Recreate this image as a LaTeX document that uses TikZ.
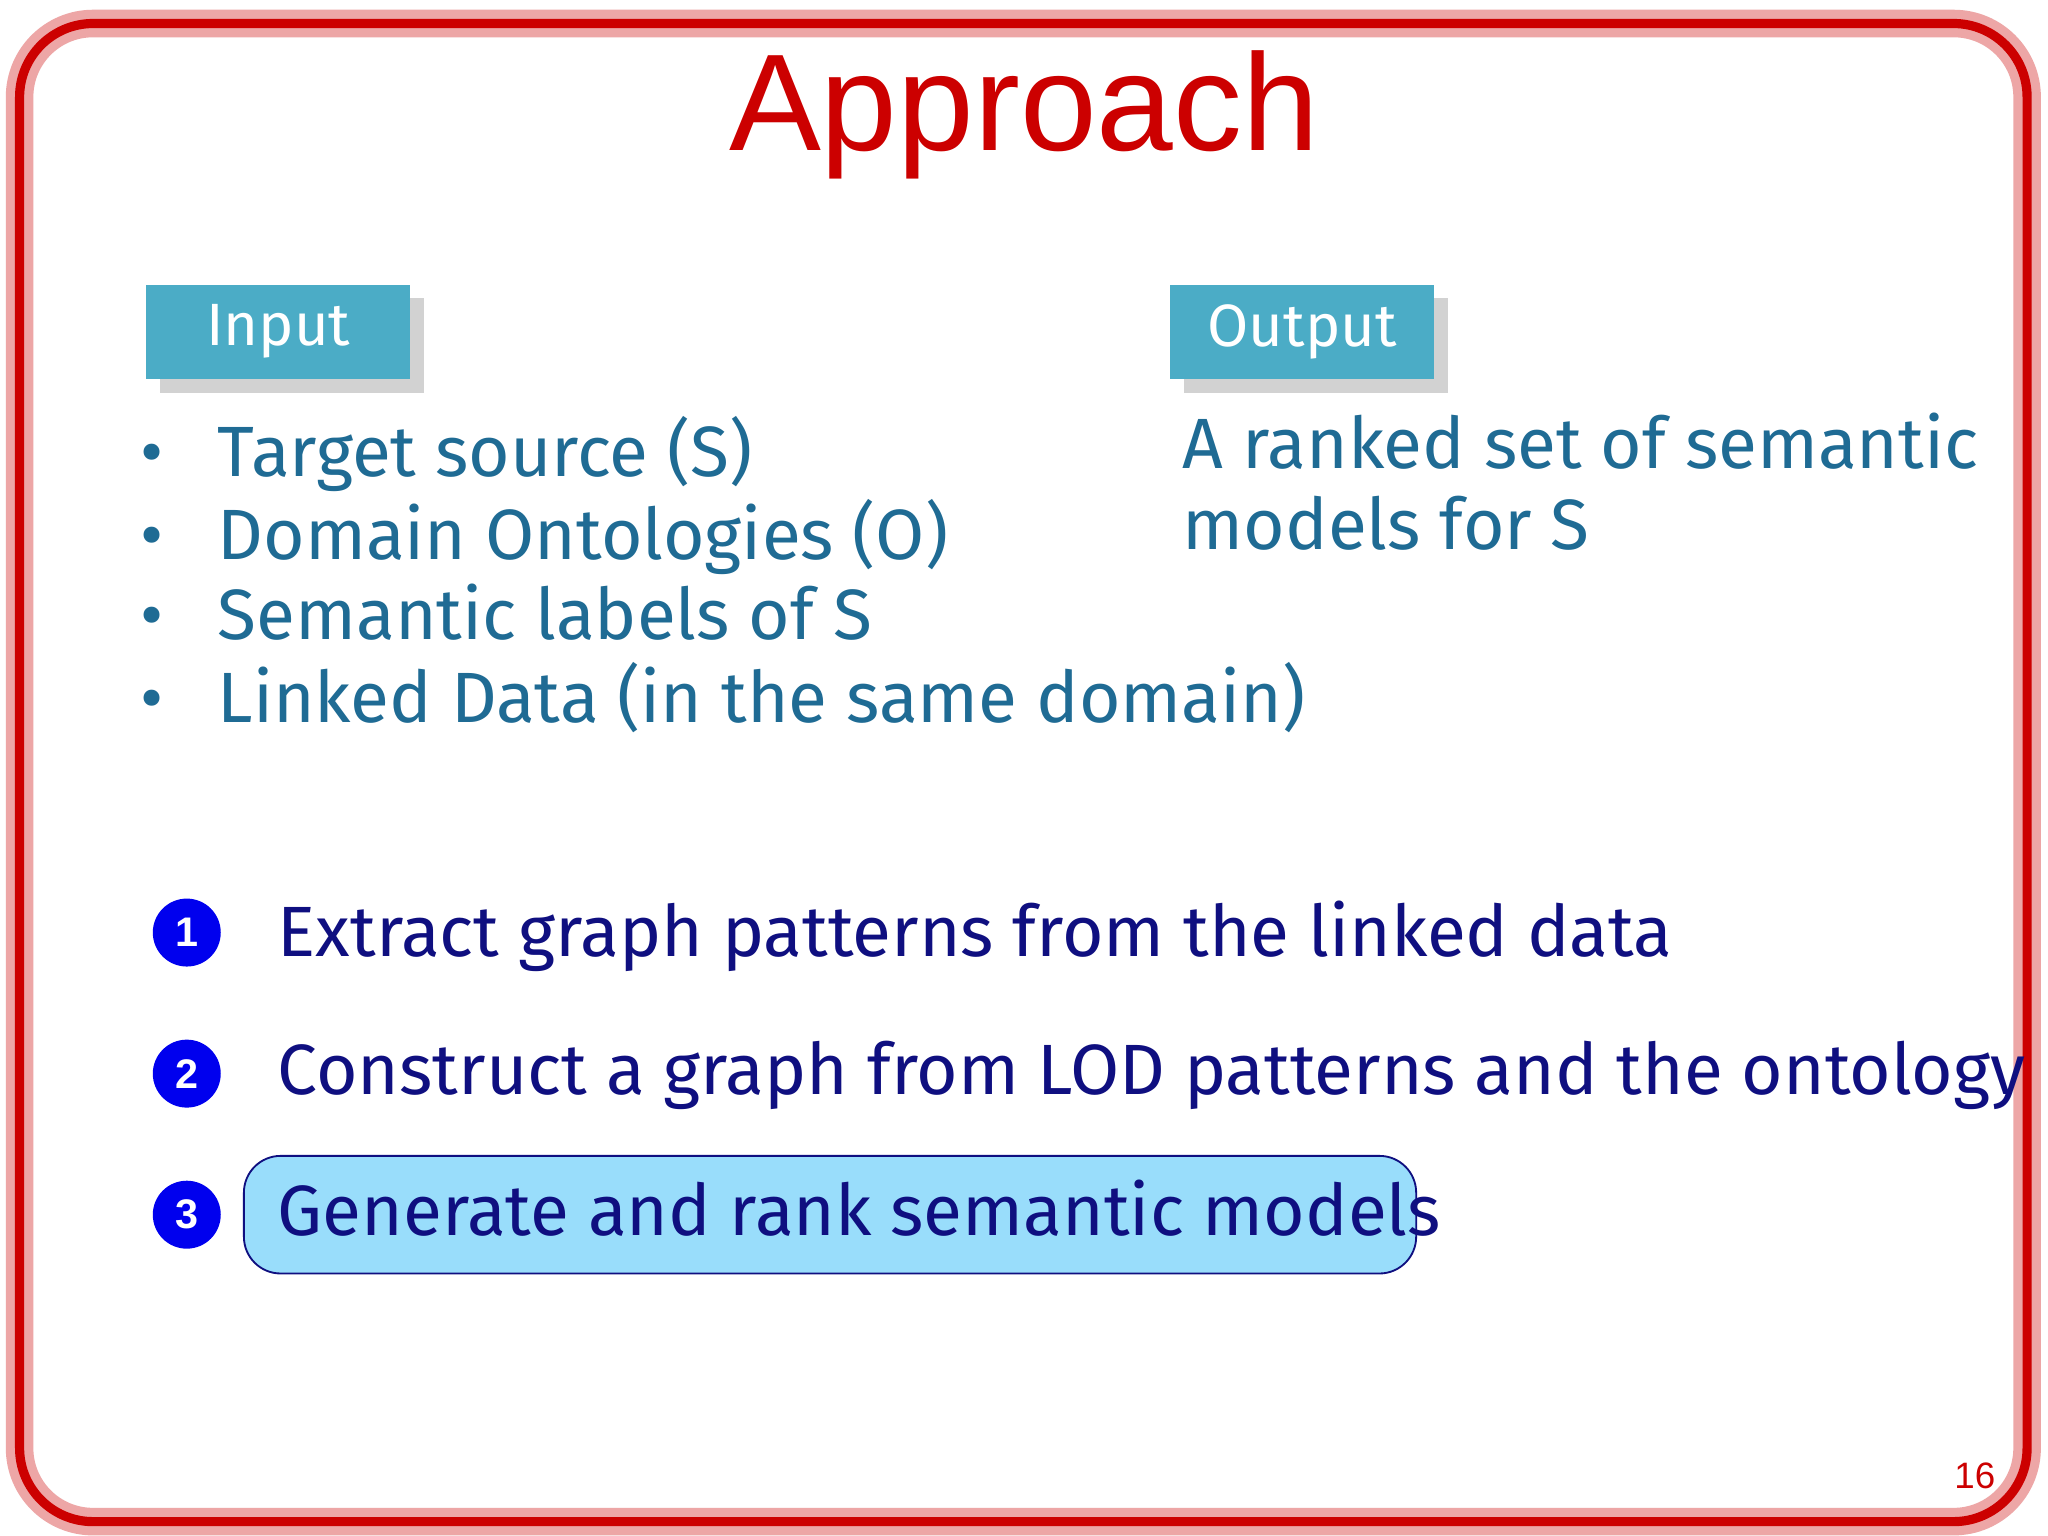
\documentclass[tikz,border=0pt]{standalone}
\usepackage{fontspec}
\setmainfont{Fira Sans}
\newfontfamily\arialf{Liberation Sans}
\usetikzlibrary{shadows}
\definecolor{titred}{HTML}{CC0000}
\definecolor{boxblue}{HTML}{4BACC6}
\definecolor{bultxt}{HTML}{1F6B94}
\definecolor{steptxt}{HTML}{0F0F80}
\definecolor{stepcirc}{HTML}{0000EE}
\definecolor{hlfill}{HTML}{99DDFB}
\tikzset{
 hdr/.style={fill=boxblue,text=white,minimum width=2.02cm,minimum height=0.72cm,font=\fontsize{13pt}{15pt}\selectfont,drop shadow={opacity=0.35,shadow xshift=3pt,shadow yshift=-3pt}},
 bul/.style={anchor=base west,text=bultxt,font=\fontsize{15.5pt}{18pt}\selectfont,inner sep=0pt},
 stp/.style={anchor=base west,text=steptxt,font=\fontsize{15.5pt}{18pt}\selectfont,inner sep=0pt},
 num/.style={circle,fill=stepcirc,text=white,minimum size=0.52cm,inner sep=0pt,font=\arialf\bfseries\fontsize{9pt}{10pt}\selectfont}
}
\begin{document}
\begin{tikzpicture}[x=0.01cm,y=-0.01cm]
\useasboundingbox (0,0) rectangle (1568,1176);
\fill[white] (0,0) rectangle (1568,1176);
\draw[titred!35,line width=6pt,rounded corners=16pt] (15,18) rectangle (1552,1165);
\draw[titred,line width=2pt,rounded corners=16pt] (15,18) rectangle (1552,1165);
\node[text=titred,font=\arialf\fontsize{30pt}{34pt}\selectfont] (title) at (784,88) {Approach};
\node[hdr] (in) at (213,254) {Input};
\node[hdr] (out) at (997,254) {Output};
\foreach \yy/\t [count=\i] in {365/{Target source (S)},428/{Domain Ontologies (O)},490/{Semantic labels of S},553/{Linked Data (in the same domain)}}{
  \node[bul] (b\i) at (166,\yy) {\t};
  \node[bul] (d\i) at (107,\yy) {\textbullet};
}
\node[bul] (o1) at (905,359) {A ranked set of semantic};
\node[bul] (o2) at (905,421) {models for S};
\node[draw=steptxt,fill=hlfill,rounded corners=8pt,minimum width=8.97cm,minimum height=0.9cm] (hl) at (635.5,930) {};
\node[num] (n1) at (143,714) {1};
\node[num] (n2) at (143,822) {2};
\node[num] (n3) at (143,930) {3};
\node[stp] (s1) at (212,732) {Extract graph patterns from the linked data};
\node[stp] (s2) at (212,838) {Construct a graph from LOD patterns and the ontology};
\node[stp] (s3) at (212,946) {Generate and rank semantic models};
\node[text=titred,font=\arialf\fontsize{8pt}{9pt}\selectfont] (pg) at (1512,1130) {16};
\end{tikzpicture}
\end{document}
